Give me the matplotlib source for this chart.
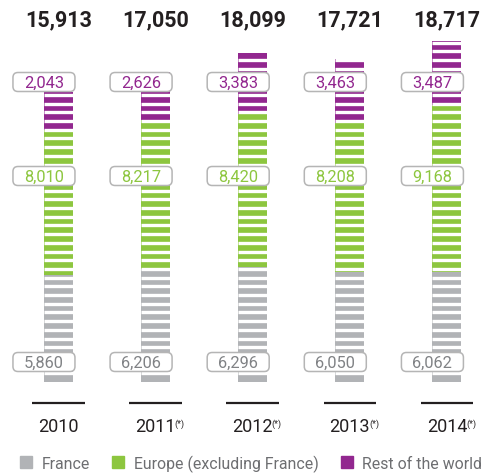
import matplotlib
matplotlib.use('Agg')
import numpy as np
import matplotlib.pyplot as plt
import matplotlib.transforms as mtransforms
from matplotlib.patches import FancyBboxPatch, Patch

plt.rcParams['font.family'] = ['Roboto', 'DejaVu Sans']

# Data
years = ['2010', '2011', '2012', '2013', '2014']
starred = [False, True, True, True, True]
france = [5860, 6206, 6296, 6050, 6062]
europe = [8010, 8217, 8420, 8208, 9168]
rest = [2043, 2626, 3383, 3463, 3487]
totals = [15913, 17050, 18099, 17721, 18717]
labels = ['France', 'Europe (excluding France)', 'Rest of the world']

GRAY = '#b1b3b6'
GREEN = '#8dc63f'
PURPLE = '#92278f'
TEXT_GRAY = '#6d6e71'
DARK = '#231f20'

PX = 1000 / 18.2  # data units per pixel (vertical)
STEP = 8.7 * PX   # stripe period


def main():
    fig = plt.figure(figsize=(4.88, 4.77), dpi=100)
    ax = fig.add_axes([0, 0, 1, 1])
    ax.set_xlim(-0.602, 4.423)
    ax.set_ylim(-94 * PX, 383 * PX)
    ax.axis('off')

    x = np.arange(len(years))
    width = 0.30
    f = np.array(france)
    e = np.array(europe)
    r = np.array(rest)
    ax.bar(x, f, width, color=GRAY, linewidth=0)
    ax.bar(x, e, width, bottom=f, color=GREEN, linewidth=0)
    ax.bar(x, r, width, bottom=f + e, color=PURPLE, linewidth=0)

    # white stripes across the bars
    for i in x:
        top = f[i] + e[i] + r[i]
        ys = np.arange(STEP, top, STEP)
        ax.hlines(ys, i - width / 2, i + width / 2, color='white',
                  linewidth=2.4, zorder=3)

    # totals on top
    for i, t in enumerate(totals):
        ax.text(i, 363 * PX, f'{t:,}', ha='center', va='center',
                fontsize=15.5, fontweight='bold', color=DARK)

    # value boxes
    rows = [(france, 20 * PX, '#808285'),
            (europe, 206 * PX, GREEN),
            (rest, 300 * PX, PURPLE)]
    for vals, yrow, col in rows:
        for i, v in enumerate(vals):
            xc = i - 14.5 / 97.1
            trans = fig.dpi_scale_trans + mtransforms.ScaledTranslation(
                xc, yrow, ax.transData)
            box = FancyBboxPatch((-0.31, -0.095), 0.62, 0.19,
                                 boxstyle='round,pad=0,rounding_size=0.05',
                                 transform=trans, facecolor='white',
                                 edgecolor='#b5b5b5', linewidth=1.1, zorder=4)
            ax.add_patch(box)
            ax.text(xc, yrow, f'{v:,}', ha='center', va='center',
                    fontsize=11.8, color=col, zorder=5)

    # baselines and year labels
    ax.hlines([-21 * PX] * len(years), x - 0.27, x + 0.27, color=DARK,
              linewidth=1.6)
    for i, (yr, st) in enumerate(zip(years, starred)):
        t = ax.text(i, -44 * PX, yr, ha='center', va='center',
                    fontsize=13, color=DARK)
        if st:
            ax.annotate('(*)', xy=(1, 1), xycoords=t, xytext=(-0.8, -1),
                        textcoords='offset points', ha='left', va='top',
                        fontsize=6.5, color=DARK)

    handles = [Patch(color=c) for c in (GRAY, GREEN, PURPLE)]
    leg = fig.legend(handles, labels, loc='center', ncol=3,
                     bbox_to_anchor=(0.515, 13 / 477), frameon=False,
                     fontsize=11.4, handlelength=0.75, handleheight=0.75,
                     handletextpad=0.6, columnspacing=1.4)
    for txt in leg.get_texts():
        txt.set_color(TEXT_GRAY)

    fig.savefig('out.png', dpi=100)
    plt.close(fig)


if __name__ == '__main__':
    main()
